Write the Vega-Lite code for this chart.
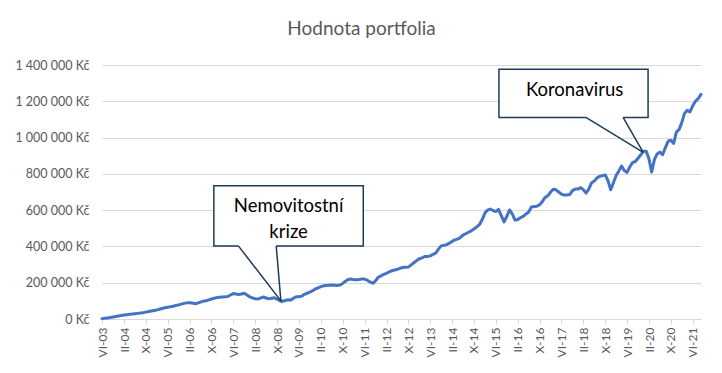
{
  "$schema": "https://vega.github.io/schema/vega-lite/v6.json",
  "autosize": "none",
  "width": 599,
  "height": 254,
  "padding": {"left": 102, "top": 65, "right": 21, "bottom": 54},
  "background": "white",
  "config": {
    "font": "Lato",
    "view": {"stroke": null},
    "axis": {"labelFont": "Lato", "labelColor": "#595959", "titleColor": "#595959"}
  },
  "title": {
    "text": "Hodnota portfolia",
    "font": "Lato",
    "fontSize": 19,
    "fontWeight": "normal",
    "color": "#595959",
    "anchor": "middle",
    "dx": -40,
    "offset": 20
  },
  "datasets": {
    "hodnota": [
      {"d":"2003-06-01","v":2000},{"d":"2003-07-01","v":4000},{"d":"2003-08-01","v":6000},{"d":"2003-09-01","v":8000},{"d":"2003-10-01","v":11000},{"d":"2003-11-01","v":14000},{"d":"2003-12-01","v":16000},
      {"d":"2004-01-01","v":19000},{"d":"2004-02-01","v":22000},{"d":"2004-03-01","v":24000},{"d":"2004-04-01","v":26000},{"d":"2004-05-01","v":27000},{"d":"2004-06-01","v":29000},{"d":"2004-07-01","v":31000},{"d":"2004-08-01","v":33000},{"d":"2004-09-01","v":35000},{"d":"2004-10-01","v":38000},{"d":"2004-11-01","v":41000},{"d":"2004-12-01","v":44000},
      {"d":"2005-01-01","v":47000},{"d":"2005-02-01","v":50000},{"d":"2005-03-01","v":54000},{"d":"2005-04-01","v":58000},{"d":"2005-05-01","v":62000},{"d":"2005-06-01","v":65000},{"d":"2005-07-01","v":67000},{"d":"2005-08-01","v":70000},{"d":"2005-09-01","v":74000},{"d":"2005-10-01","v":78000},{"d":"2005-11-01","v":82000},{"d":"2005-12-01","v":86000},
      {"d":"2006-01-01","v":89000},{"d":"2006-02-01","v":90000},{"d":"2006-03-01","v":88000},{"d":"2006-04-01","v":84000},{"d":"2006-05-01","v":88000},{"d":"2006-06-01","v":93000},{"d":"2006-07-01","v":98000},{"d":"2006-08-01","v":101000},{"d":"2006-09-01","v":105000},{"d":"2006-10-01","v":110000},{"d":"2006-11-01","v":114000},{"d":"2006-12-01","v":118000},
      {"d":"2007-01-01","v":120000},{"d":"2007-02-01","v":121000},{"d":"2007-03-01","v":122000},{"d":"2007-04-01","v":124000},{"d":"2007-05-01","v":132000},{"d":"2007-06-01","v":140000},{"d":"2007-07-01","v":138000},{"d":"2007-08-01","v":135000},{"d":"2007-09-01","v":138000},{"d":"2007-10-01","v":142000},{"d":"2007-11-01","v":132000},{"d":"2007-12-01","v":122000},
      {"d":"2008-01-01","v":116000},{"d":"2008-02-01","v":112000},{"d":"2008-03-01","v":110000},{"d":"2008-04-01","v":116000},{"d":"2008-05-01","v":121000},{"d":"2008-06-01","v":116000},{"d":"2008-07-01","v":111000},{"d":"2008-08-01","v":114000},{"d":"2008-09-01","v":117000},{"d":"2008-10-01","v":110000},{"d":"2008-11-01","v":100000},{"d":"2008-12-01","v":98000},
      {"d":"2009-01-01","v":102000},{"d":"2009-02-01","v":106000},{"d":"2009-03-01","v":104000},{"d":"2009-04-01","v":114000},{"d":"2009-05-01","v":123000},{"d":"2009-06-01","v":122000},{"d":"2009-07-01","v":126000},{"d":"2009-08-01","v":136000},{"d":"2009-09-01","v":142000},{"d":"2009-10-01","v":148000},{"d":"2009-11-01","v":156000},{"d":"2009-12-01","v":166000},
      {"d":"2010-01-01","v":172000},{"d":"2010-02-01","v":178000},{"d":"2010-03-01","v":183000},{"d":"2010-04-01","v":185000},{"d":"2010-05-01","v":186000},{"d":"2010-06-01","v":187000},{"d":"2010-07-01","v":186000},{"d":"2010-08-01","v":185000},{"d":"2010-09-01","v":187000},{"d":"2010-10-01","v":196000},{"d":"2010-11-01","v":208000},{"d":"2010-12-01","v":218000},
      {"d":"2011-01-01","v":220000},{"d":"2011-02-01","v":217000},{"d":"2011-03-01","v":216000},{"d":"2011-04-01","v":218000},{"d":"2011-05-01","v":220000},{"d":"2011-06-01","v":220000},{"d":"2011-07-01","v":214000},{"d":"2011-08-01","v":204000},{"d":"2011-09-01","v":197000},{"d":"2011-10-01","v":210000},{"d":"2011-11-01","v":230000},{"d":"2011-12-01","v":238000},
      {"d":"2012-01-01","v":246000},{"d":"2012-02-01","v":252000},{"d":"2012-03-01","v":260000},{"d":"2012-04-01","v":266000},{"d":"2012-05-01","v":270000},{"d":"2012-06-01","v":274000},{"d":"2012-07-01","v":280000},{"d":"2012-08-01","v":284000},{"d":"2012-09-01","v":285000},{"d":"2012-10-01","v":286000},{"d":"2012-11-01","v":298000},{"d":"2012-12-01","v":310000},
      {"d":"2013-01-01","v":322000},{"d":"2013-02-01","v":332000},{"d":"2013-03-01","v":337000},{"d":"2013-04-01","v":344000},{"d":"2013-05-01","v":345000},{"d":"2013-06-01","v":348000},{"d":"2013-07-01","v":356000},{"d":"2013-08-01","v":363000},{"d":"2013-09-01","v":385000},{"d":"2013-10-01","v":403000},{"d":"2013-11-01","v":406000},{"d":"2013-12-01","v":410000},
      {"d":"2014-01-01","v":418000},{"d":"2014-02-01","v":428000},{"d":"2014-03-01","v":436000},{"d":"2014-04-01","v":440000},{"d":"2014-05-01","v":448000},{"d":"2014-06-01","v":462000},{"d":"2014-07-01","v":470000},{"d":"2014-08-01","v":478000},{"d":"2014-09-01","v":486000},{"d":"2014-10-01","v":496000},{"d":"2014-11-01","v":508000},{"d":"2014-12-01","v":520000},
      {"d":"2015-01-01","v":548000},{"d":"2015-02-01","v":585000},{"d":"2015-03-01","v":600000},{"d":"2015-04-01","v":606000},{"d":"2015-05-01","v":598000},{"d":"2015-06-01","v":592000},{"d":"2015-07-01","v":604000},{"d":"2015-08-01","v":570000},{"d":"2015-09-01","v":535000},{"d":"2015-10-01","v":565000},{"d":"2015-11-01","v":601000},{"d":"2015-12-01","v":580000},
      {"d":"2016-01-01","v":545000},{"d":"2016-02-01","v":548000},{"d":"2016-03-01","v":558000},{"d":"2016-04-01","v":566000},{"d":"2016-05-01","v":578000},{"d":"2016-06-01","v":590000},{"d":"2016-07-01","v":617000},{"d":"2016-08-01","v":620000},{"d":"2016-09-01","v":622000},{"d":"2016-10-01","v":630000},{"d":"2016-11-01","v":648000},{"d":"2016-12-01","v":670000},
      {"d":"2017-01-01","v":680000},{"d":"2017-02-01","v":700000},{"d":"2017-03-01","v":715000},{"d":"2017-04-01","v":712000},{"d":"2017-05-01","v":700000},{"d":"2017-06-01","v":688000},{"d":"2017-07-01","v":683000},{"d":"2017-08-01","v":684000},{"d":"2017-09-01","v":686000},{"d":"2017-10-01","v":708000},{"d":"2017-11-01","v":716000},{"d":"2017-12-01","v":716000},
      {"d":"2018-01-01","v":724000},{"d":"2018-02-01","v":712000},{"d":"2018-03-01","v":694000},{"d":"2018-04-01","v":716000},{"d":"2018-05-01","v":750000},{"d":"2018-06-01","v":760000},{"d":"2018-07-01","v":778000},{"d":"2018-08-01","v":786000},{"d":"2018-09-01","v":790000},{"d":"2018-10-01","v":794000},{"d":"2018-11-01","v":762000},{"d":"2018-12-01","v":712000},
      {"d":"2019-01-01","v":752000},{"d":"2019-02-01","v":792000},{"d":"2019-03-01","v":815000},{"d":"2019-04-01","v":843000},{"d":"2019-05-01","v":818000},{"d":"2019-06-01","v":808000},{"d":"2019-07-01","v":838000},{"d":"2019-08-01","v":862000},{"d":"2019-09-01","v":868000},{"d":"2019-10-01","v":886000},{"d":"2019-11-01","v":905000},{"d":"2019-12-01","v":925000},
      {"d":"2020-01-01","v":925000},{"d":"2020-02-01","v":880000},{"d":"2020-03-01","v":810000},{"d":"2020-04-01","v":880000},{"d":"2020-05-01","v":910000},{"d":"2020-06-01","v":920000},{"d":"2020-07-01","v":905000},{"d":"2020-08-01","v":945000},{"d":"2020-09-01","v":980000},{"d":"2020-10-01","v":985000},{"d":"2020-11-01","v":968000},{"d":"2020-12-01","v":1030000},
      {"d":"2021-01-01","v":1045000},{"d":"2021-02-01","v":1085000},{"d":"2021-03-01","v":1133000},{"d":"2021-04-01","v":1150000},{"d":"2021-05-01","v":1142000},{"d":"2021-06-01","v":1175000},{"d":"2021-07-01","v":1200000},{"d":"2021-08-01","v":1215000},{"d":"2021-09-01","v":1238000}
    ],
    "boxes": [
      {"x1":"2006-10-28","x2":"2011-05-18","y1":403000,"y2":735000},
      {"x1":"2015-07-06","x2":"2020-01-21","y1":1111000,"y2":1376000}
    ],
    "bases": [
      {"x1":"2007-07-28","x2":"2008-09-21","y":403000},
      {"x1":"2018-02-28","x2":"2019-04-18","y":1111000}
    ],
    "pointers": [
      {"g":"a","o":1,"x":"2007-07-28","y":403000},
      {"g":"a","o":2,"x":"2008-11-12","y":100000},
      {"g":"a","o":3,"x":"2008-09-21","y":403000},
      {"g":"b","o":1,"x":"2018-02-28","y":1111000},
      {"g":"b","o":2,"x":"2019-11-28","y":918000},
      {"g":"b","o":3,"x":"2019-04-18","y":1111000}
    ],
    "labels": [
      {"x":"2017-10-25","y":1262000,"t":"Koronavirus"},
      {"x":"2009-02-06","y":625000,"t":"Nemovitostní\nkrize"}
    ]
  },
  "layer": [
    {
      "data": {"name": "hodnota"},
      "mark": {"type": "line", "stroke": "#4472C4", "strokeWidth": 3, "strokeJoin": "round", "strokeCap": "round"},
      "encoding": {
        "x": {
          "field": "d", "type": "temporal",
          "scale": {"type": "utc", "nice": false, "domain": [{"year":2003,"month":6,"date":1,"utc":true},{"year":2021,"month":9,"date":1,"utc":true}]},
          "axis": {
            "title": null,
            "grid": false,
            "domainColor": "#d9d9d9",
            "tickColor": "#d9d9d9",
            "tickSize": 5,
            "tickCount": 40,
            "labelAngle": 270,
            "labelAlign": "right",
            "labelBaseline": "middle",
            "labelPadding": 3,
            "labelFontSize": 12,
            "labelOverlap": false,
            "labelFlush": false,
            "values": [
              {"year":2003,"month":6,"date":1,"utc":true},{"year":2004,"month":2,"date":1,"utc":true},{"year":2004,"month":10,"date":1,"utc":true},
              {"year":2005,"month":6,"date":1,"utc":true},{"year":2006,"month":2,"date":1,"utc":true},{"year":2006,"month":10,"date":1,"utc":true},
              {"year":2007,"month":6,"date":1,"utc":true},{"year":2008,"month":2,"date":1,"utc":true},{"year":2008,"month":10,"date":1,"utc":true},
              {"year":2009,"month":6,"date":1,"utc":true},{"year":2010,"month":2,"date":1,"utc":true},{"year":2010,"month":10,"date":1,"utc":true},
              {"year":2011,"month":6,"date":1,"utc":true},{"year":2012,"month":2,"date":1,"utc":true},{"year":2012,"month":10,"date":1,"utc":true},
              {"year":2013,"month":6,"date":1,"utc":true},{"year":2014,"month":2,"date":1,"utc":true},{"year":2014,"month":10,"date":1,"utc":true},
              {"year":2015,"month":6,"date":1,"utc":true},{"year":2016,"month":2,"date":1,"utc":true},{"year":2016,"month":10,"date":1,"utc":true},
              {"year":2017,"month":6,"date":1,"utc":true},{"year":2018,"month":2,"date":1,"utc":true},{"year":2018,"month":10,"date":1,"utc":true},
              {"year":2019,"month":6,"date":1,"utc":true},{"year":2020,"month":2,"date":1,"utc":true},{"year":2020,"month":10,"date":1,"utc":true},
              {"year":2021,"month":6,"date":1,"utc":true}
            ],
            "labelExpr": "['I','II','III','IV','V','VI','VII','VIII','IX','X','XI','XII'][utcmonth(datum.value)] + '-' + utcFormat(datum.value, '%y')"
          }
        },
        "y": {
          "field": "v", "type": "quantitative",
          "scale": {"domain": [0, 1400000], "nice": false},
          "axis": {
            "title": null,
            "values": [0, 200000, 400000, 600000, 800000, 1000000, 1200000, 1400000],
            "tickCount": 20,
            "grid": true,
            "gridColor": "#d9d9d9",
            "gridWidth": 1,
            "domain": false,
            "ticks": false,
            "labelPadding": 13,
            "labelFontSize": 12.5,
            "labelOverlap": false,
            "labelExpr": "replace(format(datum.value, ','), regexp(',', 'g'), ' ') + ' Kč'"
          }
        }
      }
    },
    {
      "data": {"name": "boxes"},
      "mark": {"type": "rect", "fill": "white", "stroke": "#1F3B5A", "strokeWidth": 1.5},
      "encoding": {
        "x": {"field": "x1", "type": "temporal"},
        "x2": {"field": "x2"},
        "y": {"field": "y1", "type": "quantitative"},
        "y2": {"field": "y2"}
      }
    },
    {
      "data": {"name": "bases"},
      "mark": {"type": "rule", "stroke": "white", "strokeWidth": 3, "strokeCap": "butt"},
      "encoding": {
        "x": {"field": "x1", "type": "temporal"},
        "x2": {"field": "x2"},
        "y": {"field": "y", "type": "quantitative"}
      }
    },
    {
      "data": {"name": "pointers"},
      "mark": {"type": "line", "stroke": "#1F3B5A", "strokeWidth": 1.5, "interpolate": "linear"},
      "encoding": {
        "x": {"field": "x", "type": "temporal"},
        "y": {"field": "y", "type": "quantitative"},
        "order": {"field": "o", "type": "quantitative"},
        "detail": {"field": "g", "type": "nominal"}
      }
    },
    {
      "data": {"name": "labels"},
      "mark": {"type": "text", "font": "Lato", "fontSize": 18.5, "color": "#000000", "align": "center", "baseline": "middle", "lineBreak": "\n", "lineHeight": 26},
      "encoding": {
        "x": {"field": "x", "type": "temporal"},
        "y": {"field": "y", "type": "quantitative"},
        "text": {"field": "t"}
      }
    }
  ]
}
